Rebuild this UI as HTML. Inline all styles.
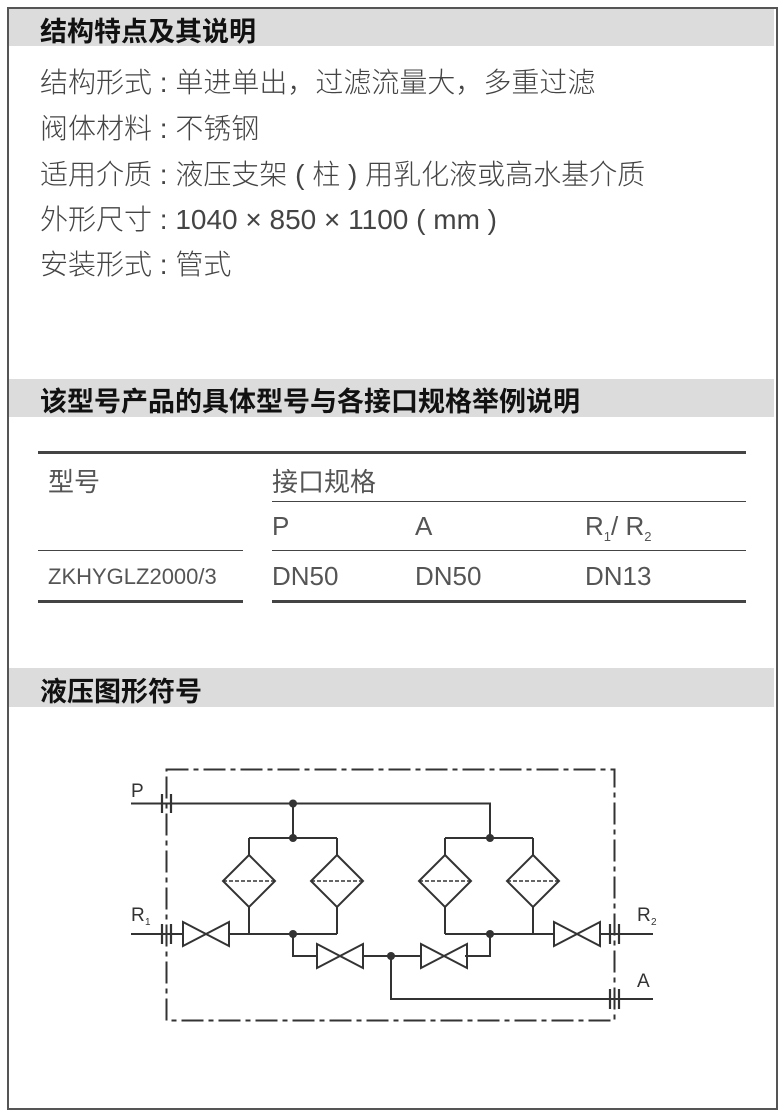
<!DOCTYPE html>
<html><head><meta charset="utf-8"><style>
body{margin:0;width:784px;height:1114px;background:#fff;position:relative;overflow:hidden;font-family:"Liberation Sans","Noto Sans CJK SC",sans-serif;color:#333}
.a{position:absolute;white-space:nowrap}
.frame{position:absolute;left:7px;top:7px;width:767px;height:1099px;border:2px solid #555}
.hd{position:absolute;left:9px;width:765px;background:#dcdcdc}
.h{font-weight:bold;font-size:27px;color:#111}
.t{font-size:28px;color:#444;font-weight:300}
.c{font-size:26px;color:#555}
.ln{position:absolute;background:#444}
</style></head><body>
<div class="frame"></div>
<div class="hd" style="top:9px;height:37px"></div>
<div class="hd" style="top:379px;height:38px"></div>
<div class="hd" style="top:668px;height:39px"></div>
<div class="a h" style="left:40px;top:10px">结构特点及其说明</div>
<div class="a t" style="left:40px;top:61px">结构形式 : 单进单出，过滤流量大，多重过滤</div>
<div class="a t" style="left:40px;top:107px">阀体材料 : 不锈钢</div>
<div class="a t" style="left:40px;top:153px">适用介质 : 液压支架 ( 柱 ) 用乳化液或高水基介质</div>
<div class="a t" style="left:40px;top:198px">外形尺寸 : 1040 × 850 × 1100 ( mm )</div>
<div class="a t" style="left:40px;top:243px">安装形式 : 管式</div>
<div class="a h" style="left:40px;top:380px">该型号产品的具体型号与各接口规格举例说明</div>
<div class="ln" style="left:38px;top:451px;width:708px;height:3px"></div>
<div class="ln" style="left:272px;top:501px;width:474px;height:1px"></div>
<div class="ln" style="left:38px;top:550px;width:205px;height:1px"></div>
<div class="ln" style="left:272px;top:550px;width:474px;height:1px"></div>
<div class="ln" style="left:38px;top:600px;width:205px;height:3px"></div>
<div class="ln" style="left:272px;top:600px;width:474px;height:3px"></div>
<div class="a c" style="left:48px;top:462px">型号</div>
<div class="a c" style="left:272px;top:462px">接口规格</div>
<div class="a c" style="left:272px;top:511px">P</div>
<div class="a c" style="left:415px;top:511px">A</div>
<div class="a c" style="left:585px;top:511px">R<sub style="font-size:13px">1</sub>/ R<sub style="font-size:13px">2</sub></div>
<div class="a" style="left:48px;top:564px;font-size:22px;color:#555">ZKHYGLZ2000/3</div>
<div class="a c" style="left:272px;top:561px">DN50</div>
<div class="a c" style="left:415px;top:561px">DN50</div>
<div class="a c" style="left:585px;top:561px">DN13</div>
<div class="a h" style="left:40px;top:670px">液压图形符号</div>
<svg class="a" style="left:0;top:0" width="784" height="1114" fill="none" stroke="#333" stroke-width="2">
<rect x="166.5" y="769.5" width="448" height="251" stroke-dasharray="22,5,5,5"/>
<polyline points="131,803.5 490,803.5 490,838"/>
<line x1="293" y1="803.5" x2="293" y2="838"/>
<line x1="249" y1="838" x2="337" y2="838"/>
<line x1="445" y1="838" x2="533" y2="838"/>
<g id="f"><polygon points="249,855 275,881 249,907 223,881"/><line x1="223" y1="881" x2="275" y2="881" stroke-dasharray="4,2" stroke-width="1.5"/></g>
<use href="#f" x="88"/><use href="#f" x="196"/><use href="#f" x="284"/>
<line x1="249" y1="838" x2="249" y2="855"/><line x1="337" y1="838" x2="337" y2="855"/>
<line x1="445" y1="838" x2="445" y2="855"/><line x1="533" y1="838" x2="533" y2="855"/>
<line x1="249" y1="907" x2="249" y2="934"/><line x1="337" y1="907" x2="337" y2="934"/>
<line x1="445" y1="907" x2="445" y2="934"/><line x1="533" y1="907" x2="533" y2="934"/>
<line x1="131" y1="934" x2="183" y2="934"/><line x1="229" y1="934" x2="337" y2="934"/>
<line x1="445" y1="934" x2="554" y2="934"/><line x1="599" y1="934" x2="653" y2="934"/>
<polyline points="293,934 293,956 317,956"/><line x1="362" y1="956" x2="421" y2="956"/><polyline points="465,956 490,956 490,934"/>
<polyline points="391,956 391,999 653,999"/>
<g id="v"><polygon points="183,922 229,946 229,922 183,946"/></g>
<use href="#v" x="134" y="22"/><use href="#v" x="238" y="22"/><use href="#v" x="371"/>
<g stroke-width="2.2"><line x1="162" y1="794" x2="162" y2="813"/><line x1="171" y1="794" x2="171" y2="813"/>
<line x1="162" y1="924" x2="162" y2="944"/><line x1="171" y1="924" x2="171" y2="944"/>
<line x1="610" y1="924" x2="610" y2="944"/><line x1="619" y1="924" x2="619" y2="944"/>
<line x1="610" y1="989" x2="610" y2="1009"/><line x1="619" y1="989" x2="619" y2="1009"/></g>
<g fill="#333" stroke="none"><circle cx="293" cy="803.5" r="4"/><circle cx="293" cy="838" r="4"/><circle cx="490" cy="838" r="4"/><circle cx="293" cy="934" r="4"/><circle cx="490" cy="934" r="4"/><circle cx="391" cy="956" r="4"/></g>
<g fill="#333" stroke="none" font-family="Liberation Sans,sans-serif" font-size="19"><text x="131" y="797">P</text><text x="131" y="921">R</text><text x="145" y="925" font-size="10">1</text><text x="637" y="921">R</text><text x="651" y="925" font-size="10">2</text><text x="637" y="987">A</text></g>
</svg>
</body></html>
